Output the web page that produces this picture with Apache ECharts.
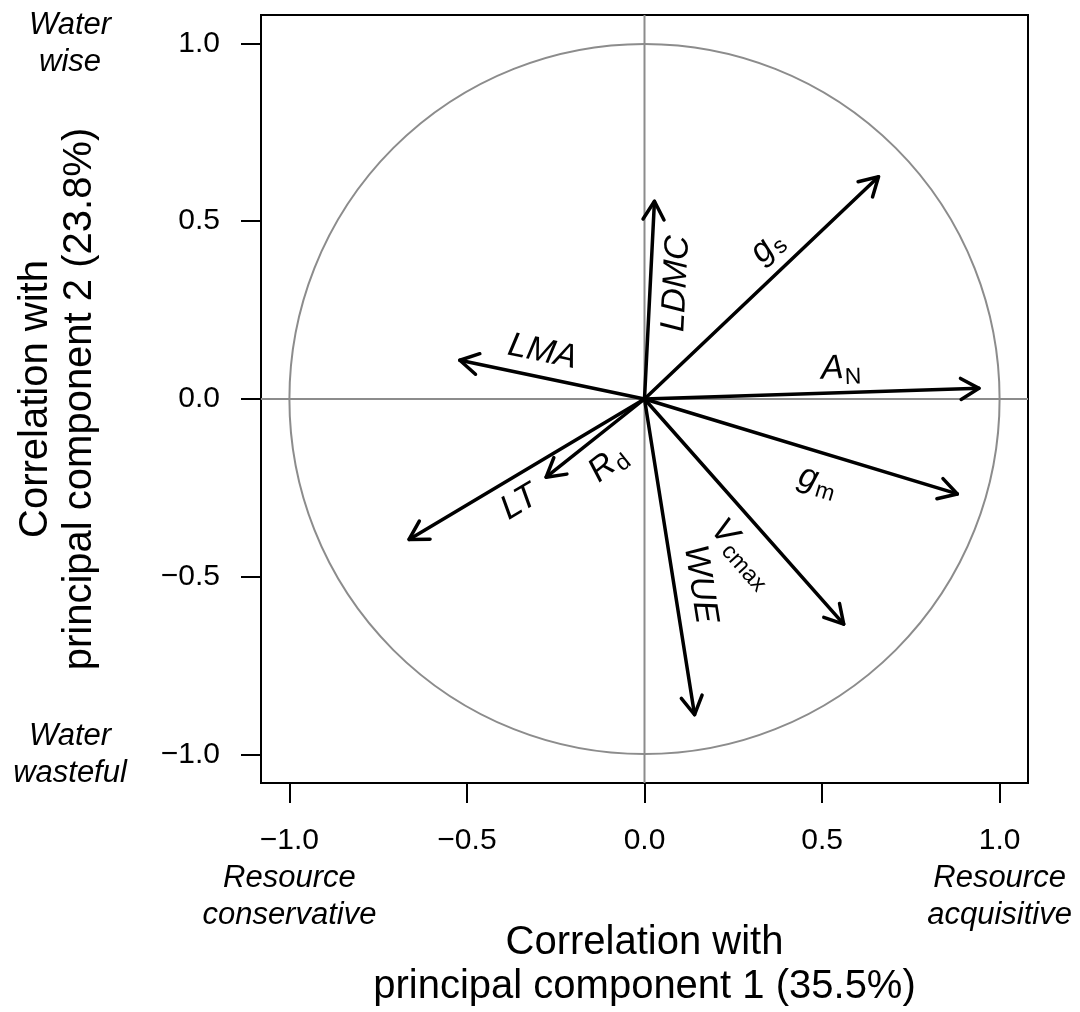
<!DOCTYPE html>
<html>
<head>
<meta charset="utf-8">
<title>Trait correlation circle</title>
<script src="https://cdn.jsdelivr.net/npm/echarts@6.0.0/dist/echarts.min.js"></script>
<style>
html, body { margin: 0; padding: 0; background: #fff; }
#main { width: 1080px; height: 1012px; }
</style>
</head>
<body>
<div id="main"></div>
<script>
// loadings of each trait on PC1 / PC2
var traitNames = ['g', 'LDMC', 'LMA', 'A', 'g', 'V', 'WUE', 'LT', 'R'];
var traitSubs  = ['s', '', '', 'N', 'm', 'cmax', '', '', 'd'];
var pc1 = [0.659, 0.028, -0.520, 0.942, 0.881, 0.561, 0.141, -0.663, -0.277];
var pc2 = [0.625, 0.556, 0.109, 0.030, -0.267, -0.633, -0.888, -0.395, -0.220];
var tickValues = [-1, -0.5, 0, 0.5, 1];
var xTitle = 'Correlation with\nprincipal component 1 (35.5%)';
var yTitle = 'Correlation with\nprincipal component 2 (23.8%)';
var xEndNotes = ['Resource\nconservative', 'Resource\nacquisitive'];
var yEndNotes = ['Water\nwise', 'Water\nwasteful'];

// label layout: [fraction along arrow, px offset towards the text's top side]
var labelPlace = [
  [0.60, 26], [0.59, -26], [0.58, 25], [0.59, 24], [0.58, -28],
  [0.60, -29], [0.60, 26], [0.585, -25], [0.55, -28]
];

var FONT = '"Liberation Sans", Arial, Helvetica, sans-serif';
var MAIN_SIZE = 34, SUB_SIZE = 23;

var measureCtx = document.createElement('canvas').getContext('2d');
function textWidth(str, font) {
  measureCtx.font = font;
  return measureCtx.measureText(str).width;
}

var points = pc1.map(function (v, i) { return [v, pc2[i], i]; });

function fmtTick(v) {
  return (v < 0 ? '\u2212' : '') + Math.abs(v).toFixed(1);
}

var chartDom = document.getElementById('main');
var myChart = echarts.init(chartDom);
var option = {
  animation: false,
  backgroundColor: '#fff',
  textStyle: { fontFamily: FONT },
  grid: {
    left: 261, top: 15, width: 767, height: 768,
    show: true, borderColor: '#000', borderWidth: 2,
    outerBoundsMode: 'none'
  },
  xAxis: {
    type: 'value', min: -1.08, max: 1.08,
    name: xTitle, nameLocation: 'middle', nameGap: 138,
    nameTextStyle: { fontSize: 40, lineHeight: 44, color: '#000', fontFamily: FONT },
    axisLine: { show: true, onZero: false, lineStyle: { color: '#000', width: 2 } },
    axisTick: { show: true, customValues: tickValues, length: 20, lineStyle: { color: '#000', width: 2 } },
    axisLabel: { customValues: tickValues, formatter: fmtTick, margin: 43, fontSize: 30, color: '#000', fontFamily: FONT },
    splitLine: { show: false }
  },
  yAxis: {
    type: 'value', min: -1.08, max: 1.08,
    name: yTitle, nameLocation: 'middle', nameGap: 159,
    nameTextStyle: { fontSize: 40, lineHeight: 44, color: '#000', fontFamily: FONT },
    axisLine: { show: true, onZero: false, lineStyle: { color: '#000', width: 2 } },
    axisTick: { show: true, customValues: tickValues, length: 20, lineStyle: { color: '#000', width: 2 } },
    axisLabel: { customValues: tickValues, formatter: fmtTick, margin: 41, fontSize: 30, color: '#000', fontFamily: FONT },
    splitLine: { show: false }
  },
  series: [
    {
      // unit circle and the zero lines
      name: 'reference',
      type: 'custom',
      silent: true,
      data: [[0, 0]],
      renderItem: function (params, api) {
        var c = api.coord([0, 0]);
        var r = api.size([1, 1])[0];
        var cs = params.coordSys;
        var grey = { stroke: '#8c8c8c', lineWidth: 2, fill: null };
        return {
          type: 'group',
          children: [
            { type: 'line', shape: { x1: c[0], y1: cs.y, x2: c[0], y2: cs.y + cs.height }, style: grey },
            { type: 'line', shape: { x1: cs.x, y1: c[1], x2: cs.x + cs.width, y2: c[1] }, style: grey },
            { type: 'circle', shape: { cx: c[0], cy: c[1], r: r }, style: grey }
          ]
        };
      }
    },
    {
      name: 'loadings',
      type: 'custom',
      silent: true,
      data: points,
      renderItem: function (params, api) {
        var o = api.coord([0, 0]);
        var p = api.coord([api.value(0), api.value(1)]);
        var ang = Math.atan2(p[1] - o[1], p[0] - o[0]);
        var L = 21, a = Math.PI / 6;
        var h1 = [p[0] - L * Math.cos(ang - a), p[1] - L * Math.sin(ang - a)];
        var h2 = [p[0] - L * Math.cos(ang + a), p[1] - L * Math.sin(ang + a)];
        var st = { stroke: '#000', lineWidth: 3.5, fill: null, lineCap: 'round', lineJoin: 'round' };
        return {
          type: 'group',
          children: [
            { type: 'line', shape: { x1: o[0], y1: o[1], x2: p[0], y2: p[1] }, style: st },
            { type: 'polyline', shape: { points: [h1, p, h2] }, style: st }
          ]
        };
      }
    },
    {
      name: 'labels',
      type: 'custom',
      silent: true,
      clip: false,
      data: points,
      renderItem: function (params, api) {
        var i = api.value(2);
        var o = api.coord([0, 0]);
        var p = api.coord([api.value(0), api.value(1)]);
        var vx = p[0] - o[0], vy = p[1] - o[1];
        var len = Math.sqrt(vx * vx + vy * vy);
        var rx = vx / len, ry = vy / len;
        if (rx < 0) { rx = -rx; ry = -ry; }
        var ux = ry, uy = -rx;
        var t = labelPlace[i][0], off = labelPlace[i][1];
        var cx = o[0] + t * vx + off * ux;
        var cy = o[1] + t * vy + off * uy;
        var main = traitNames[i], sub = traitSubs[i];
        var wMain = textWidth(main, 'italic ' + MAIN_SIZE + 'px ' + FONT);
        var wSub = sub ? textWidth(sub, SUB_SIZE + 'px ' + FONT) + 1 : 0;
        var x0 = -(wMain + wSub) / 2;
        var children = [{
          type: 'text', x: x0, y: 0,
          style: { text: main, fontSize: MAIN_SIZE, fontStyle: 'italic', fontFamily: FONT, fill: '#000', align: 'left', verticalAlign: 'middle' }
        }];
        if (sub) {
          children.push({
            type: 'text', x: x0 + wMain + 1, y: 9,
            style: { text: sub, fontSize: SUB_SIZE, fontFamily: FONT, fill: '#000', align: 'left', verticalAlign: 'middle' }
          });
        }
        return {
          type: 'group', x: cx, y: cy,
          rotation: Math.atan2(-ry, rx),
          children: children
        };
      }
    }
  ]
};
option && myChart.setOption(option);

// italic notes at the ends of both axes
var noteStyle = { fontSize: 31, fontStyle: 'italic', fontFamily: FONT, fill: '#000', align: 'center', verticalAlign: 'middle', lineHeight: 37 };
var graphics = [];
var yTop = myChart.convertToPixel({ gridIndex: 0 }, [0, 1]);
var yBot = myChart.convertToPixel({ gridIndex: 0 }, [0, -1]);
var xLeft = myChart.convertToPixel({ gridIndex: 0 }, [-1, 0]);
var xRight = myChart.convertToPixel({ gridIndex: 0 }, [1, 0]);
graphics.push({ type: 'text', x: 70, y: yTop[1], style: Object.assign({ text: yEndNotes[0] }, noteStyle) });
graphics.push({ type: 'text', x: 70, y: yBot[1], style: Object.assign({ text: yEndNotes[1] }, noteStyle) });
graphics.push({ type: 'text', x: xLeft[0], y: 897, style: Object.assign({ text: xEndNotes[0] }, noteStyle) });
graphics.push({ type: 'text', x: xRight[0], y: 897, style: Object.assign({ text: xEndNotes[1] }, noteStyle) });
myChart.setOption({ graphic: graphics });
</script>
</body>
</html>
